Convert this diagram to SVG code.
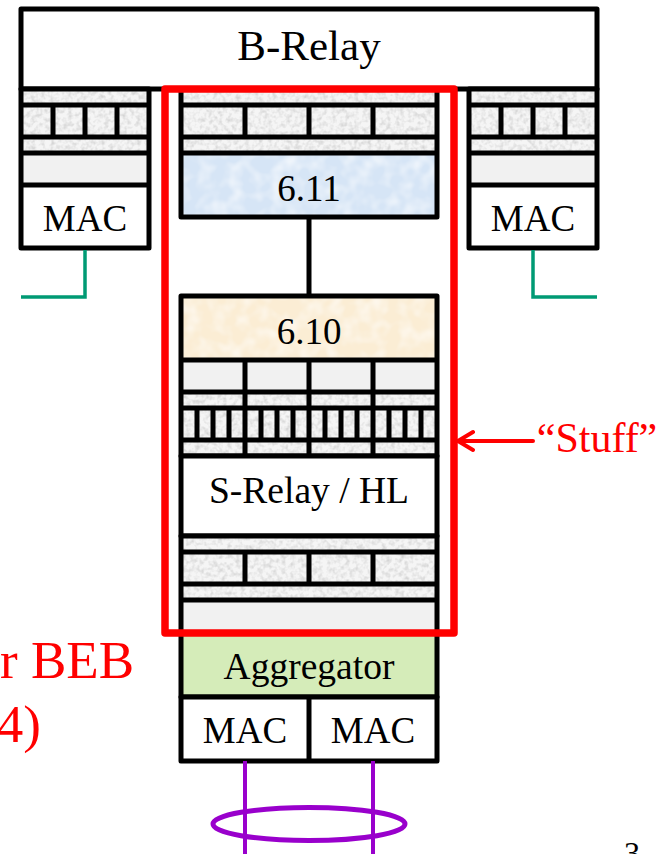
<svg xmlns="http://www.w3.org/2000/svg" width="662" height="854" viewBox="0 0 662 854">
<style>
text{font-family:"Liberation Serif","Times New Roman",serif;text-anchor:middle;fill:#000}
.t{font-size:37px}
.w{font-size:37.5px}
.red{font-size:42px;fill:#f00}
.beb{font-size:53px;fill:#f00;text-anchor:end}
.b{fill:none;stroke:#000;stroke-width:5;stroke-linejoin:round}
.tex{fill:#f5f5f5;filter:url(#mottle)}
.plain{fill:#f1f1f1}
.g{fill:none;stroke:#009a74;stroke-width:3.5}
.p{fill:none;stroke:#9900cc;stroke-width:4}
</style>
<defs>
<filter id="mottle" x="0" y="0" width="100%" height="100%" color-interpolation-filters="sRGB">
<feTurbulence type="fractalNoise" baseFrequency="0.22" numOctaves="2" seed="4" result="n"/>
<feColorMatrix in="n" type="matrix" values="0 0 0 0 0.8  0 0 0 0 0.8  0 0 0 0 0.8  1.8 0 0 0 -0.75" result="m"/>
<feComposite in="m" in2="SourceGraphic" operator="in" result="c"/>
<feMerge><feMergeNode in="SourceGraphic"/><feMergeNode in="c"/></feMerge>
</filter>
<filter id="mottle-c" x="0" y="0" width="100%" height="100%" color-interpolation-filters="sRGB">
<feTurbulence type="fractalNoise" baseFrequency="0.07" numOctaves="2" seed="9" result="n"/>
<feColorMatrix in="n" type="matrix" values="0 0 0 0 1  0 0 0 0 1  0 0 0 0 1  1.2 0 0 0 -0.45" result="m"/>
<feComposite in="m" in2="SourceGraphic" operator="in" result="c"/>
<feMerge><feMergeNode in="SourceGraphic"/><feMergeNode in="c"/></feMerge>
</filter>
</defs>
<rect width="662" height="854" fill="#fff"/>

<g id="b-relay">
<rect x="21" y="9" width="576" height="80" class="b" style="fill:#fff"/>
<text x="309" y="60" style="font-size:43px">B-Relay</text>
</g>

<g id="left-port">
<rect x="21" y="89" width="128" height="16" class="tex"/>
<rect x="21" y="105" width="128" height="32" class="tex"/>
<rect x="21" y="137" width="128" height="16" class="tex"/>
<rect x="21" y="153" width="128" height="32" class="plain"/>
<path class="b" d="M21 89H149V248H21ZM21 105H149M21 137H149M21 153H149M21 185H149M53 105V137M85 105V137M117 105V137"/>
<text x="85" y="231" class="t">MAC</text>
</g>

<g id="right-port">
<rect x="469" y="89" width="128" height="16" class="tex"/>
<rect x="469" y="105" width="128" height="32" class="tex"/>
<rect x="469" y="137" width="128" height="16" class="tex"/>
<rect x="469" y="153" width="128" height="32" class="plain"/>
<path class="b" d="M469 89H597V248H469ZM469 105H597M469 137H597M469 153H597M469 185H597M501 105V137M533 105V137M565 105V137"/>
<text x="533" y="231" class="t">MAC</text>
</g>

<g id="node-6-11">
<rect x="181" y="89" width="256" height="16" class="tex"/>
<rect x="181" y="105" width="256" height="32" class="tex"/>
<rect x="181" y="137" width="256" height="16" class="tex"/>
<rect x="181" y="153" width="256" height="64" fill="#d6e5f6" filter="url(#mottle-c)"/>
<path class="b" d="M181 89H437V217H181ZM181 105H437M181 137H437M181 153H437M245 105V137M309 105V137M373 105V137"/>
<text x="309" y="201" class="t">6.11</text>
</g>

<g id="node-6-10">
<rect x="181" y="296" width="256" height="64" fill="#fbedd4" filter="url(#mottle-c)"/>
<text x="309" y="344" class="t">6.10</text>
</g>

<g id="port-array">
<rect x="181" y="360" width="256" height="32" class="plain"/>
<rect x="181" y="392" width="256" height="16" class="tex"/>
<rect x="181" y="408" width="256" height="32" class="tex"/>
<rect x="181" y="440" width="256" height="16" class="tex"/>
<path class="b" d="M181 296H437V456H181ZM181 360H437M181 392H437M181 408H437M181 440H437M245 360V456M309 360V456M373 360V456"/>
<path class="b" d="M197 408V440M213 408V440M229 408V440M261 408V440M277 408V440M293 408V440M325 408V440M341 408V440M357 408V440M389 408V440M405 408V440M421 408V440"/>
</g>

<g id="s-relay">
<rect x="181" y="456" width="256" height="80" class="b" style="fill:#fff"/>
<text x="309" y="503" class="w">S-Relay / HL</text>
</g>

<g id="lower-port">
<rect x="181" y="536" width="256" height="16" class="tex"/>
<rect x="181" y="552" width="256" height="32" class="tex"/>
<rect x="181" y="584" width="256" height="16" class="tex"/>
<rect x="181" y="600" width="256" height="33" class="plain"/>
<path class="b" d="M181 536H437V633H181ZM181 552H437M181 584H437M181 600H437M245 552V584M309 552V584M373 552V584"/>
</g>

<g id="aggregator">
<rect x="181" y="633" width="256" height="64" class="b" style="fill:#d5ecb9"/>
<text x="309" y="679" class="w">Aggregator</text>
</g>

<g id="mac-pair">
<rect x="181" y="697" width="256" height="64" class="b" style="fill:#fff"/>
<path class="b" d="M309 697V761"/>
<text x="245" y="743" class="t">MAC</text>
<text x="373" y="743" class="t">MAC</text>
</g>

<g id="connectors">
<path class="b" d="M309 217V296"/>
<path class="g" d="M85 250V297H21"/>
<path class="g" d="M533 250V297H597"/>
<path class="p" d="M245 761V854M373 761V854"/>
<ellipse cx="309" cy="824" rx="96" ry="16.5" fill="none" stroke="#9900cc" stroke-width="5"/>
<path fill="none" stroke="#f00" stroke-width="4" stroke-linecap="round" stroke-linejoin="round" d="M533 441H458M473 432L458 441L473 450"/>
</g>

<g id="stuff-box">
<rect x="165" y="89" width="289" height="544" fill="none" stroke="#f00" stroke-width="7.5" stroke-linejoin="round"/>
</g>

<text x="597" y="452" class="red">“Stuff”</text>
<text x="134" y="678" class="beb">r BEB</text>
<text x="41" y="742" class="beb">4)</text>
<text x="632" y="864" style="font-size:32px">3</text>
</svg>
